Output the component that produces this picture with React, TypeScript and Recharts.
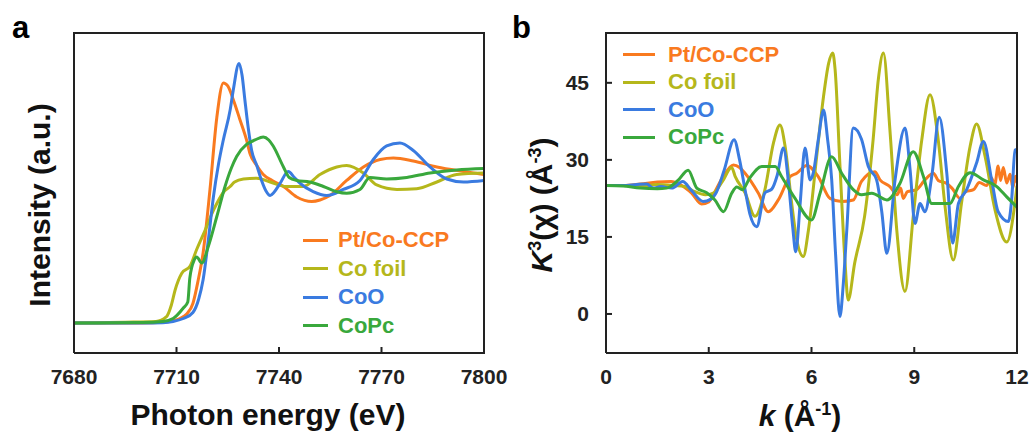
import { LineChart, Line, XAxis, YAxis } from 'recharts';

// XANES, panel a: [photon energy (eV), normalized intensity]
const xanesCCP: [number, number][] = [
  [7680, 0], [7700, 0], [7706, 0.005], [7709, 0.015], [7711, 0.03], [7713, 0.06], [7714.8, 0.13],
  [7716.3, 0.28], [7717.8, 0.47], [7719.8, 0.89], [7721.8, 1.37], [7723.7, 1.6], [7725, 1.58],
  [7726.6, 1.49], [7728.5, 1.36], [7730.5, 1.22], [7731.5, 1.13], [7733.5, 1.05], [7735.4, 0.99],
  [7738, 0.95], [7741.3, 0.91], [7745.2, 0.84], [7749.6, 0.81], [7752, 0.82], [7754.9, 0.85],
  [7759.8, 0.95], [7764.7, 1.04], [7769.6, 1.09], [7773.5, 1.1], [7779.3, 1.08], [7786.2, 1.04],
  [7794, 1.01], [7800, 0.99],
];
const xanesFoil: [number, number][] = [
  [7680, 0], [7695, 0.005], [7704, 0.01], [7707, 0.04], [7708.5, 0.12], [7709.6, 0.22], [7711.5, 0.33],
  [7714, 0.38], [7715.9, 0.49], [7718.4, 0.62], [7720.8, 0.75], [7723.7, 0.87], [7725.7, 0.91],
  [7727, 0.94], [7729.6, 0.96], [7733.5, 0.965], [7737.4, 0.94], [7742.2, 0.91], [7747.1, 0.91],
  [7752, 0.99], [7756.9, 1.04], [7759.8, 1.05], [7764.7, 1.0], [7768.6, 0.92], [7774.5, 0.89],
  [7780.3, 0.895], [7786.2, 0.94], [7792, 0.99], [7800, 1.0],
];
const xanesCoO: [number, number][] = [
  [7680, 0], [7700, 0], [7706, 0.002], [7709, 0.01], [7712, 0.03], [7714.8, 0.07], [7716.5, 0.16],
  [7717.8, 0.29], [7719.3, 0.55], [7720.8, 0.84], [7722.3, 1.06], [7723.7, 1.22], [7725.7, 1.42],
  [7726.6, 1.55], [7728.3, 1.73], [7729.2, 1.65], [7730, 1.49], [7731, 1.3], [7732, 1.15],
  [7733.5, 1.05], [7734.9, 0.95], [7736.2, 0.88], [7737.4, 0.85], [7738.5, 0.87], [7740.3, 0.93],
  [7742.7, 1.01], [7744.5, 0.97], [7746.2, 0.93], [7750, 0.875], [7754, 0.85], [7758.8, 0.89],
  [7763.7, 0.95], [7767.6, 1.09], [7771.5, 1.18], [7775.4, 1.2], [7779.3, 1.15], [7784.2, 1.04],
  [7789.1, 0.96], [7794, 0.94], [7800, 0.95],
];
const xanesCoPc: [number, number][] = [
  [7680, 0], [7700, 0.003], [7706, 0.01], [7709, 0.03], [7712, 0.1], [7713.3, 0.14], [7713.9, 0.3],
  [7715.2, 0.42], [7715.9, 0.44], [7717.4, 0.4], [7719.3, 0.51], [7721.8, 0.71], [7724.2, 0.91],
  [7726, 1.03], [7727.6, 1.11], [7730.5, 1.19], [7733, 1.22], [7735.4, 1.24], [7737, 1.22],
  [7738.3, 1.18], [7741.3, 1.04], [7743, 0.97], [7745.2, 0.95], [7749, 0.94], [7753, 0.91],
  [7756.9, 0.875], [7759.8, 0.865], [7763.7, 0.89], [7766.6, 0.97], [7771.5, 0.96], [7777.4, 0.97],
  [7784.2, 1.0], [7792, 1.02], [7800, 1.03],
];

// EXAFS, panel b: [k (1/Å), k3·chi]
const exafsCCP: [number, number][] = [
  [0, 25], [0.5, 25], [1.0, 25.3], [1.5, 25.7], [1.9, 25.8], [2.16, 25.2], [2.5, 23.5], [2.79, 21.4],
  [3.0, 21.8], [3.13, 23.2], [3.4, 26.5], [3.72, 29], [3.9, 28.5], [4.06, 27.4], [4.45, 23.5],
  [4.74, 19.9], [5.03, 22.2], [5.37, 26.7], [5.57, 27.4], [5.86, 28.9], [6.2, 26.7], [6.54, 22.5],
  [6.88, 21.9], [7.22, 22.2], [7.46, 25.8], [7.85, 27.7], [8.0, 26.1], [8.29, 24.8], [8.5, 23.2],
  [8.6, 24.5], [8.68, 22.5], [8.8, 23.8], [9.07, 24.2], [9.3, 26], [9.56, 27.4], [9.7, 26],
  [9.95, 25.4], [10.1, 24.5], [10.34, 22.5], [10.5, 23.8], [10.73, 24.2], [10.9, 25.6], [11.11, 25.0],
  [11.25, 26.5], [11.35, 25.2], [11.45, 28.8], [11.52, 26], [11.6, 28.5], [11.7, 25.5], [11.8, 27.2],
  [11.88, 24.6], [11.95, 26.8], [12, 25.6],
];
const exafsFoil: [number, number][] = [
  [0, 25], [0.5, 25], [1.0, 24.8], [1.5, 25.2], [2.0, 25], [2.3, 24.8], [2.6, 23.8], [2.9, 23.2],
  [3.15, 23.6], [3.4, 25.8], [3.67, 28.5], [3.77, 26.8], [4.06, 23.6], [4.35, 19], [4.64, 24.2],
  [4.89, 33.3], [5.08, 36.8], [5.23, 32.6], [5.42, 21.6], [5.57, 14.4], [5.76, 11.2], [5.91, 16.3],
  [6.15, 30.6], [6.35, 42.3], [6.5, 48.8], [6.62, 50.8], [6.69, 47.5], [6.83, 29], [6.98, 10],
  [7.07, 2.7], [7.26, 9.9], [7.55, 19], [7.8, 34], [7.95, 45.6], [8.1, 50.8], [8.29, 35.8],
  [8.49, 16.3], [8.73, 4.4], [8.97, 19], [9.22, 33.9], [9.46, 42.7], [9.7, 33.9], [9.9, 20.9],
  [10.14, 10.5], [10.38, 21.6], [10.63, 32.6], [10.82, 37], [11.07, 30.6], [11.36, 20.2], [11.7, 14],
  [11.94, 21.6], [12, 25],
];
const exafsCoO: [number, number][] = [
  [0, 25], [0.5, 25], [0.9, 25.2], [1.19, 25.3], [1.38, 24.5], [1.6, 24.8], [1.92, 24.5], [2.24, 25.8],
  [2.5, 24], [2.84, 21.9], [3.05, 22.3], [3.23, 23.8], [3.45, 28], [3.74, 33.9], [3.9, 30], [4.06, 24.2],
  [4.2, 19.5], [4.4, 17], [4.64, 23.6], [4.84, 24.3], [5.0, 27], [5.18, 32.3], [5.33, 25.5], [5.45, 17],
  [5.54, 12.1], [5.67, 21.6], [5.81, 32.3], [5.96, 26.1], [6.05, 27.4], [6.2, 34], [6.35, 39.7],
  [6.47, 34], [6.59, 26.1], [6.7, 12], [6.83, -0.5], [6.93, 6], [7.03, 16.3], [7.22, 36.2], [7.46, 34],
  [7.66, 28.7], [7.9, 26.1], [8.05, 20], [8.2, 11.8], [8.44, 26.1], [8.73, 36.2], [8.88, 28],
  [9.02, 17.6], [9.17, 21.5], [9.31, 19.9], [9.51, 26.7], [9.73, 38.3], [9.95, 27.4], [10.12, 13.8],
  [10.29, 21.5], [10.53, 24.2], [10.82, 29.4], [11.02, 33.6], [11.26, 26.1], [11.45, 19.9], [11.75, 18],
  [11.85, 22.8], [11.94, 31.9], [12, 32],
];
const exafsCoPc: [number, number][] = [
  [0, 25], [0.5, 24.9], [1.0, 24.5], [1.5, 24.4], [1.77, 24.5], [2.1, 26], [2.4, 28], [2.65, 24.5],
  [2.94, 23.6], [3.18, 22.2], [3.43, 19.9], [3.67, 23.5], [3.82, 24.7], [3.98, 24.2], [4.2, 26.5],
  [4.55, 28.7], [4.94, 28.7], [5.13, 26.7], [5.52, 22.5], [6.0, 18.3], [6.25, 23.5], [6.59, 30.6],
  [6.88, 27.4], [7.22, 24.2], [7.46, 23.2], [7.76, 23.5], [8.2, 22.2], [8.58, 25.4], [8.97, 31.6],
  [9.27, 26.7], [9.51, 21.5], [10.04, 21.5], [10.29, 24.8], [10.63, 27.5], [11.02, 26.1], [11.41, 24.8],
  [11.7, 22.8], [12, 20.8],
];

const names = ['Pt/Co-CCP', 'Co foil', 'CoO', 'CoPc'];
const energyTicks = [7680, 7710, 7740, 7770, 7800];
const kTicks = [0, 3, 6, 9, 12];
const chiTicks = [0, 15, 30, 45];

const colors = ['#F97A1F', '#B5B71B', '#3A7BE0', '#39A83C'];
const AXIS = '#222';
const FONT = '"Liberation Sans", Arial, sans-serif';

const toPts = (arr: [number, number][]) => arr.map(([x, y]) => ({ x, y }));

const BottomTick = (props: any) => {
  const { x, y, payload } = props;
  return (
    <g>
      <line x1={x} y1={y} x2={x} y2={y - 6} stroke={AXIS} strokeWidth={2} />
      <text x={x} y={y + 31} textAnchor="middle" fontSize={21} fontWeight="bold" fill={AXIS} fontFamily={FONT}>
        {payload.value}
      </text>
    </g>
  );
};

const LeftTick = (props: any) => {
  const { x, y, payload } = props;
  return (
    <g>
      <line x1={x} y1={y} x2={x + 6} y2={y} stroke={AXIS} strokeWidth={2} />
      <text x={x - 17} y={y + 7.5} textAnchor="end" fontSize={21} fontWeight="bold" fill={AXIS} fontFamily={FONT}>
        {payload.value}
      </text>
    </g>
  );
};

function Legend({ left, top, gap, lineW }: { left: number; top: number; gap: number; lineW: number }) {
  return (
    <div style={{ position: 'absolute', left, top, fontFamily: FONT, fontWeight: 'bold', fontSize: 22 }}>
      {names.map((n, i) => (
        <div key={n} style={{ display: 'flex', alignItems: 'center', height: gap, color: colors[i] }}>
          <div style={{ width: lineW, height: 3, background: colors[i], marginRight: lineW > 28 ? 13 : 10 }} />
          <span style={{ lineHeight: 1 }}>{n}</span>
        </div>
      ))}
    </div>
  );
}

const txt = (x: number, y: number, rot = false): any => ({
  position: 'absolute',
  left: x,
  top: y,
  transform: `translate(-50%, -50%)${rot ? ' rotate(-90deg)' : ''}`,
  whiteSpace: 'nowrap',
  fontFamily: FONT,
  fontWeight: 'bold',
  fontSize: 30,
  lineHeight: 1,
  color: '#111',
});

const frameLine = { stroke: AXIS, strokeWidth: 2 };

export default function App() {
  const xa = [xanesCCP, xanesFoil, xanesCoO, xanesCoPc];
  const xb = [exafsCCP, exafsFoil, exafsCoO, exafsCoPc];
  return (
    <div style={{ position: 'absolute', left: 0, top: 0, width: 1031, height: 434, background: '#fff' }}>
      <div style={{ position: 'absolute', left: 0, top: 0, width: 520, height: 434 }}>
        <LineChart width={520} height={434} margin={{ top: 33, right: 36, bottom: 0, left: 0 }}>
          <XAxis
            type="number"
            dataKey="x"
            domain={[7680, 7800]}
            ticks={energyTicks}
            allowDataOverflow
            height={81}
            tickSize={0}
            tickMargin={0}
            tickLine={false}
            tick={BottomTick}
            axisLine={frameLine}
          />
          <XAxis xAxisId="top" orientation="top" type="number" domain={[7680, 7800]} allowDataOverflow height={0} tick={false} tickLine={false} axisLine={frameLine} />
          <YAxis
            type="number"
            dataKey="y"
            domain={[-0.2, 1.933]}
            allowDataOverflow
            width={74}
            tick={false}
            tickLine={false}
            axisLine={frameLine}
          />
          <YAxis yAxisId="right" orientation="right" type="number" domain={[-0.2, 1.933]} allowDataOverflow width={0} tick={false} tickLine={false} axisLine={frameLine} />
          {xa.map((d, i) => (
            <Line
              key={names[i]}
              data={toPts(d)}
              dataKey="y"
              type="monotone"
              stroke={colors[i]}
              strokeWidth={3}
              dot={false}
              isAnimationActive={false}
            />
          ))}
        </LineChart>
        <div style={{ position: 'absolute', left: 73, top: 32, width: 412, height: 2, background: AXIS }} />
        <div style={{ position: 'absolute', left: 483, top: 32, width: 2, height: 322, background: AXIS }} />
      </div>
      <div style={{ position: 'absolute', left: 520, top: 0, width: 511, height: 434 }}>
        <LineChart width={511} height={434} margin={{ top: 33, right: 14, bottom: 0, left: 0 }}>
          <XAxis
            type="number"
            dataKey="x"
            domain={[0, 12]}
            ticks={kTicks}
            allowDataOverflow
            height={81}
            tickSize={0}
            tickMargin={0}
            tickLine={false}
            tick={BottomTick}
            axisLine={frameLine}
          />
          <XAxis xAxisId="top" orientation="top" type="number" domain={[0, 12]} allowDataOverflow height={0} tick={false} tickLine={false} axisLine={frameLine} />
          <YAxis
            type="number"
            dataKey="y"
            domain={[-7.6, 54.7]}
            ticks={chiTicks}
            allowDataOverflow
            width={86}
            tickSize={0}
            tickMargin={0}
            tickLine={false}
            tick={LeftTick}
            axisLine={frameLine}
          />
          <YAxis yAxisId="right" orientation="right" type="number" domain={[-7.6, 54.7]} allowDataOverflow width={0} tick={false} tickLine={false} axisLine={frameLine} />
          {xb.map((d, i) => (
            <Line
              key={names[i]}
              data={toPts(d)}
              dataKey="y"
              type="monotone"
              stroke={colors[i]}
              strokeWidth={3}
              dot={false}
              isAnimationActive={false}
            />
          ))}
        </LineChart>
        <div style={{ position: 'absolute', left: 85, top: 32, width: 413, height: 2, background: AXIS }} />
        <div style={{ position: 'absolute', left: 496, top: 32, width: 2, height: 322, background: AXIS }} />
      </div>

      <Legend left={303} top={226} gap={28.5} lineW={25} />
      <Legend left={623} top={41} gap={27.5} lineW={32} />

      <div style={{ position: 'absolute', left: 12, top: 12, fontFamily: FONT, fontWeight: 'bold', fontSize: 31, lineHeight: 1 }}>a</div>
      <div style={{ position: 'absolute', left: 512, top: 12, fontFamily: FONT, fontWeight: 'bold', fontSize: 31, lineHeight: 1 }}>b</div>

      <div style={txt(268, 415)}>Photon energy (eV)</div>
      <div style={txt(40, 205, true)}>Intensity (a.u.)</div>
      <div style={txt(800, 415)}>
        <i>k</i> (Å<sup style={{ fontSize: 18 }}>-1</sup>)
      </div>
      <div style={txt(541, 205, true)}>
        <i>K</i>
        <sup style={{ fontSize: 18 }}>3</sup>(χ) (Å<sup style={{ fontSize: 18 }}>-3</sup>)
      </div>
    </div>
  );
}
